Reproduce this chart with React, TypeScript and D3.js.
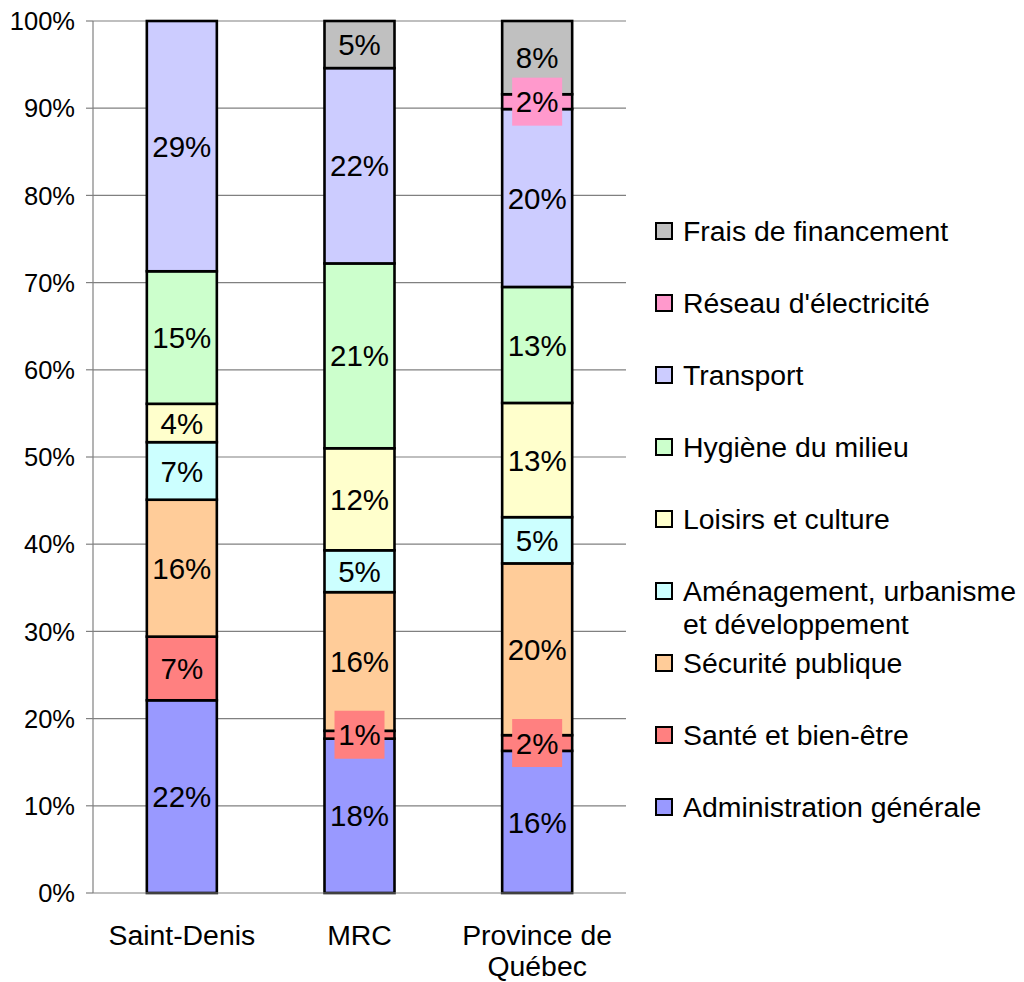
import * as d3 from 'd3';
import React, { useEffect } from 'react';

const categories = ['Saint-Denis', 'MRC', 'Province de\nQuébec'];

// bottom to top
const seriesNames = [
    'Administration générale',
    'Santé et bien-être',
    'Sécurité publique',
    'Aménagement, urbanisme\net développement',
    'Loisirs et culture',
    'Hygiène du milieu',
    'Transport',
    "Réseau d'électricité",
    'Frais de financement',
];

const administration = [22.1, 17.7, 16.3];
const sante = [7.3, 0.9, 1.8];
const securite = [15.7, 15.9, 19.7];
const amenagement = [6.6, 4.8, 5.3];
const loisirs = [4.4, 11.7, 13.1];
const hygiene = [15.2, 21.2, 13.3];
const transport = [28.7, 22.4, 20.4];
const reseau = [0, 0, 1.7];
const frais = [0, 5.4, 8.4];

const seriesValues = [administration, sante, securite, amenagement, loisirs, hygiene, transport, reseau, frais];

const seriesColors = ['#9999FF', '#FF8080', '#FFCC99', '#CCFFFF', '#FFFFCC', '#CCFFCC', '#CCCCFF', '#FF99CC', '#C0C0C0'];

const yTicks = [0, 10, 20, 30, 40, 50, 60, 70, 80, 90, 100];

const WIDTH = 1024;
const HEIGHT = 982;
const margin = { top: 21, right: 398, bottom: 89, left: 93 };
const FONT = '"Liberation Sans", Arial, sans-serif';

const App = () => {
    useEffect(() => {
        document.body.style.margin = '0';
    }, []);

    const x = d3.scaleBand()
        .domain(categories)
        .range([margin.left, WIDTH - margin.right])
        .paddingInner(0.606)
        .paddingOuter(0.303);

    const y = d3.scaleLinear().domain([0, 100]).range([HEIGHT - margin.bottom, margin.top]);

    // stack the series per category
    const table = categories.map((c, i) => {
        const row: any = { cat: c };
        seriesNames.forEach((s, j) => { row[s] = seriesValues[j][i]; });
        return row;
    });
    const stacked = d3.stack().keys(seriesNames)(table);

    const x0 = margin.left;
    const x1 = WIDTH - margin.right;

    return (
        <svg width={WIDTH} height={HEIGHT} style={{ display: 'block', fontFamily: FONT }}>
            {/* grid */}
            {yTicks.filter(t => t > 0).map(t => (
                <line key={'g' + t} x1={x0} x2={x1} y1={y(t)} y2={y(t)} stroke="#808080" strokeWidth={1.2} />
            ))}
            {/* y axis */}
            <line x1={x0} x2={x0} y1={y(0)} y2={y(100)} stroke="#808080" strokeWidth={1.2} />
            {yTicks.map(t => (
                <g key={'t' + t}>
                    <line x1={x0 - 7} x2={x0} y1={y(t)} y2={y(t)} stroke="#808080" strokeWidth={1.2} />
                    <text x={x0 - 18} y={y(t)} dy="0.36em" textAnchor="end" fontSize={25.5} fill="#000">{t + '%'}</text>
                </g>
            ))}
            {/* bars */}
            {stacked.map((layer, j) => (
                <g key={'s' + j}>
                    {layer.map((d, i) => {
                        if (d[1] - d[0] <= 0) return null;
                        return (
                            <rect key={i} x={x(categories[i])} width={x.bandwidth()}
                                y={y(d[1])} height={y(d[0]) - y(d[1])}
                                fill={seriesColors[j]} stroke="#000" strokeWidth={2.6} />
                        );
                    })}
                </g>
            ))}
            {/* x axis */}
            <line x1={x0} x2={x1} y1={y(0)} y2={y(0)} stroke="#808080" strokeWidth={1.2} />
            {/* labels */}
            {stacked.map((layer, j) => (
                <g key={'l' + j}>
                    {layer.map((d, i) => {
                        const v = d[1] - d[0];
                        if (v <= 0) return null;
                        const cx = x(categories[i])! + x.bandwidth() / 2;
                        const cy = y((d[0] + d[1]) / 2);
                        return (
                            <g key={i}>
                                {v < 3 && (
                                    <rect x={cx - 25} y={cy - 24} width={50} height={48} fill={seriesColors[j]} />
                                )}
                                <text x={cx} y={cy} dy="0.36em" textAnchor="middle" fontSize={29.5} fill="#000">
                                    {Math.round(v) + '%'}
                                </text>
                            </g>
                        );
                    })}
                </g>
            ))}
            {/* category labels */}
            {categories.map(c => (
                <text key={c} x={x(c)! + x.bandwidth() / 2} y={y(0) + 42} textAnchor="middle" fontSize={28.4} fill="#000">
                    {c.split('\n').map((line, k) => (
                        <tspan key={k} x={x(c)! + x.bandwidth() / 2} dy={k === 0 ? '0.36em' : '1.1em'}>{line}</tspan>
                    ))}
                </text>
            ))}
            {/* legend */}
            {seriesNames.map((s, j) => {
                const k = seriesNames.length - 1 - j;
                const ly = 231 + k * 72;
                return (
                    <g key={'lg' + j}>
                        <rect x={656} y={ly - 8} width={16} height={16} fill={seriesColors[j]} stroke="#000" strokeWidth={2} />
                        <text x={683} y={ly} fontSize={28.4} fill="#000">
                            {s.split('\n').map((line, m) => (
                                <tspan key={m} x={683} dy={m === 0 ? '0.36em' : '1.15em'}>{line}</tspan>
                            ))}
                        </text>
                    </g>
                );
            })}
        </svg>
    );
};

export default App;
